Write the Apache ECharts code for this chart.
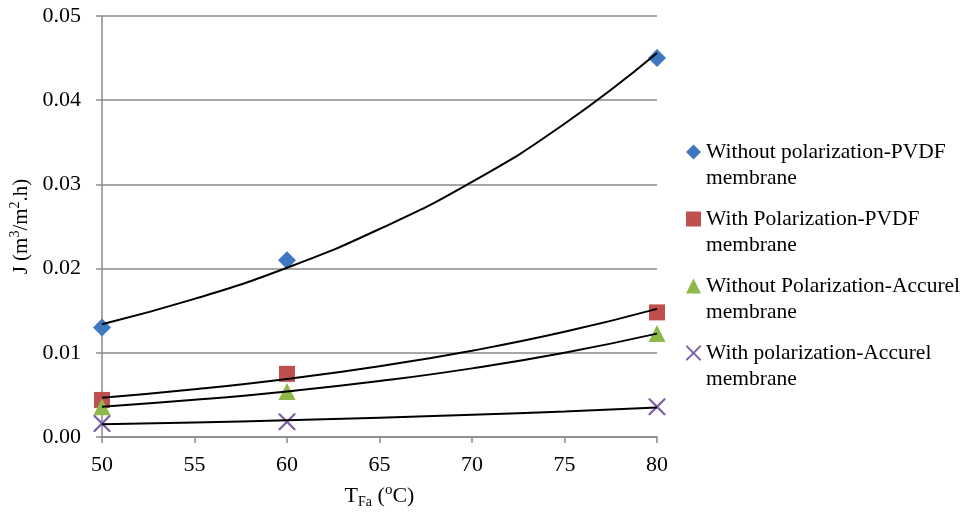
<!DOCTYPE html>
<html>
<head>
<meta charset="utf-8">
<script src="https://cdn.jsdelivr.net/npm/echarts@6/dist/echarts.min.js"></script>
<style>html,body{margin:0;padding:0;background:#fff;}#c{width:973px;height:514px;}</style>
</head>
<body>
<div id="c"></div>
<script>
// Measured points
var xVals = [50, 60, 80];
var seriesA = [0.0130, 0.0210, 0.0450]; // Without polarization-PVDF
var seriesB = [0.0044, 0.0075, 0.0148]; // With Polarization-PVDF
var seriesC = [0.0036, 0.0054, 0.0123]; // Without Polarization-Accurel
var seriesD = [0.0016, 0.0018, 0.0036]; // With polarization-Accurel

// Trend curves
var trendX = [50, 55, 60, 65, 70, 75, 80];
var trendA = [0.0134, 0.0164, 0.0201, 0.0247, 0.0303, 0.0372, 0.0456];
var trendB = [0.00465, 0.00567, 0.0069, 0.00841, 0.01025, 0.01249, 0.01522];
var trendC = [0.00359, 0.00441, 0.00541, 0.00664, 0.00815, 0.01001, 0.01228];
var trendD = [0.0015, 0.00173, 0.00199, 0.00229, 0.00263, 0.00303, 0.00349];

var names = [
  'Without polarization-PVDF',
  'With Polarization-PVDF',
  'Without Polarization-Accurel',
  'With polarization-Accurel'
];
var nameSuffix = 'membrane';
var xTicks = [50, 55, 60, 65, 70, 75, 80];
var yTicks = ['0.00', '0.01', '0.02', '0.03', '0.04', '0.05'];

var colors = ['#3f78c0', '#c0504d', '#8fb84a', '#7a5ba6'];
var crossPath = 'path://M0,0 L1.8,0 L10,8.2 L18.2,0 L20,0 L20,1.8 L11.8,10 L20,18.2 L20,20 L18.2,20 L10,11.8 L1.8,20 L0,20 L0,18.2 L8.2,10 L0,1.8 Z';
var symbols = ['diamond', 'rect', 'triangle', crossPath];
var sizes = [18, 16, 17, 17];
var FONT = 'Liberation Serif';

function pairs(xs, ys) { return xs.map(function (x, i) { return [x, ys[i]]; }); }

var pts = [seriesA, seriesB, seriesC, seriesD];
var trends = [trendA, trendB, trendC, trendD];

var series = [];
pts.forEach(function (arr, i) {
  series.push({
    name: names[i], type: 'scatter', data: pairs(xVals, arr),
    symbol: symbols[i], symbolSize: sizes[i],
    itemStyle: { color: colors[i], opacity: 1 }, z: 2
  });
});
trends.forEach(function (arr, i) {
  series.push({
    name: 'trend' + i, type: 'line', data: pairs(trendX, arr),
    smooth: true, showSymbol: false, symbol: 'none',
    lineStyle: { color: '#000', width: 2 }, z: 3, silent: true
  });
});

var chart = echarts.init(document.getElementById('c'));
chart.setOption({
  animation: false,
  backgroundColor: '#fff',
  grid: { left: 98, right: 316, top: 16, bottom: 75 },
  xAxis: {
    type: 'value', min: 50, max: 80, interval: 5,
    axisLine: { show: true, onZero: false, lineStyle: { color: '#8a8a8a', width: 1.5 } },
    axisTick: { show: true, inside: false, length: 6, lineStyle: { color: '#8a8a8a', width: 1.5 } },
    splitLine: { show: false },
    axisLabel: { color: '#000', fontFamily: FONT, fontSize: 22, margin: 17,
      formatter: function (v) { return xTicks.indexOf(v) >= 0 ? String(v) : ''; } },
    name: '{n|T}{s|Fa}{n| (}{p|o}{n|C)}',
    nameLocation: 'middle', nameGap: 46,
    nameTextStyle: {
      rich: {
        n: { fontFamily: FONT, fontSize: 22, color: '#000', lineHeight: 26 },
        s: { fontFamily: FONT, fontSize: 14, color: '#000', lineHeight: 26, verticalAlign: 'bottom' },
        p: { fontFamily: FONT, fontSize: 15, color: '#000', lineHeight: 26, verticalAlign: 'top' }
      }
    }
  },
  yAxis: {
    type: 'value', min: 0, max: 0.05, interval: 0.01,
    axisLine: { show: true, lineStyle: { color: '#8a8a8a', width: 1.5 } },
    axisTick: { show: true, inside: false, length: 6, lineStyle: { color: '#8a8a8a', width: 1.5 } },
    splitLine: { show: true, lineStyle: { color: '#8a8a8a', width: 1.5 } },
    axisLabel: { color: '#000', fontFamily: FONT, fontSize: 22, margin: 21,
      formatter: function (v) { return yTicks[Math.round(v * 100)]; } },
    name: '{n|J (m}{p|3}{n|/m}{p|2}{n|.h)}',
    nameLocation: 'middle', nameGap: 68, nameRotate: 90,
    nameTextStyle: {
      rich: {
        n: { fontFamily: FONT, fontSize: 21, color: '#000', lineHeight: 26 },
        p: { fontFamily: FONT, fontSize: 14, color: '#000', lineHeight: 26, verticalAlign: 'top' }
      }
    }
  },
  legend: {
    orient: 'vertical', left: 681, top: 116, itemGap: -1,
    itemWidth: 15, itemHeight: 15,
    data: names.map(function (n, i) { return { name: n, icon: symbols[i] }; }),
    formatter: function (n) { return '{e| }\n{t|' + n + '}\n{t|' + nameSuffix + '}'; },
    textStyle: {
      fontFamily: FONT, fontSize: 21.5, color: '#000',
      rich: {
        e: { fontSize: 10, lineHeight: 26 },
        t: { fontFamily: FONT, fontSize: 21.5, color: '#000', lineHeight: 26 }
      }
    },
    selectedMode: false
  },
  series: series
});
</script>
</body>
</html>
